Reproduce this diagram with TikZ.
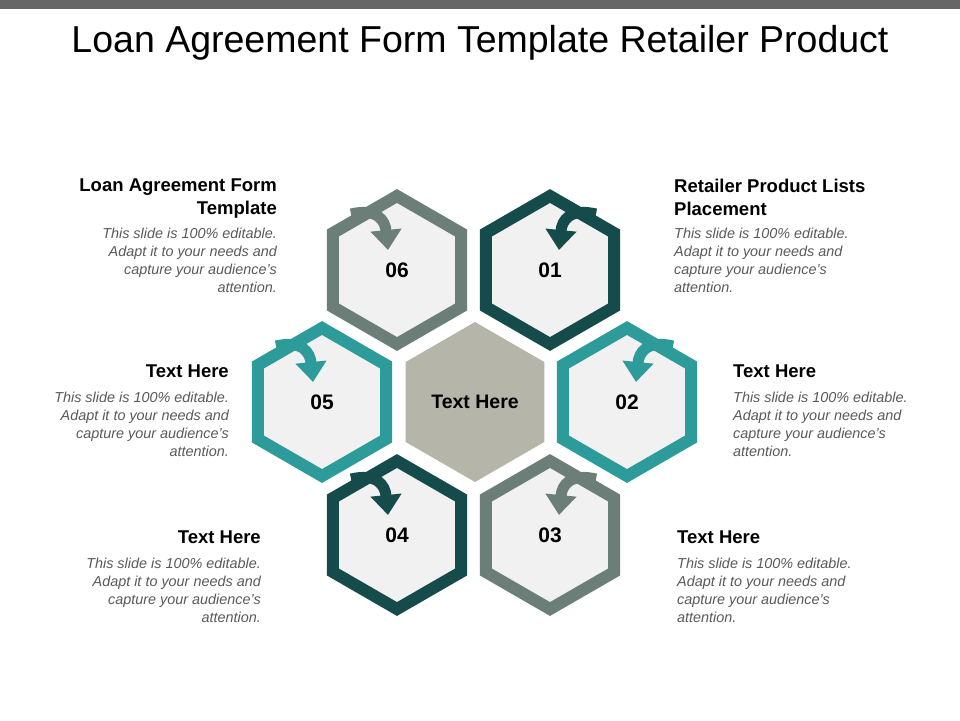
\documentclass[tikz,border=0pt]{standalone}
\usepackage{fontspec}
\setmainfont{Liberation Sans}
\usetikzlibrary{arrows.meta,shapes.geometric}
\definecolor{cdark}{HTML}{164B4B}
\definecolor{cgray}{HTML}{6B7F78}
\definecolor{cteal}{HTML}{2E9B9B}
\definecolor{ccent}{HTML}{B5B5AA}
\definecolor{cfill}{HTML}{F1F1F1}
\definecolor{ctext}{HTML}{595959}
\tikzset{
 hexa/.style={regular polygon,regular polygon sides=6,shape border rotate=90,minimum size=148pt,line width=12pt,fill=cfill,inner sep=0pt,font=\bfseries\fontsize{21}{24}\selectfont},
 curarrow/.style={line width=11pt,-{Triangle[width=30pt,length=20pt]}},
 head/.style={font=\bfseries\fontsize{18.5}{23}\selectfont,inner sep=0pt},
 body/.style={font=\itshape\fontsize{14.4}{17.8}\selectfont,text=ctext,inner sep=0pt},
}
\begin{document}
\begin{tikzpicture}[x=1pt,y=-1pt]
\useasboundingbox (0,0) rectangle (960,720);
\fill[gray!80!black] (0,0) rectangle (960,9);
\node[font=\fontsize{37.5}{42}\selectfont] (title) at (480,43) {Loan Agreement Form Template Retailer Product};
% hexagons
\node[hexa,draw=cgray] (h6) at (397,270) {06};
\node[hexa,draw=cdark] (h1) at (550,270) {01};
\node[hexa,draw=cteal] (h5) at (322,402) {05};
\node[hexa,draw=none,fill=ccent,minimum size=160pt,font=\bfseries\fontsize{19.5}{22}\selectfont] (hc) at (475,402) {Text Here};
\node[hexa,draw=cteal] (h2) at (627,402) {02};
\node[hexa,draw=cdark] (h4) at (397,535) {04};
\node[hexa,draw=cgray] (h3) at (550,535) {03};
% arrows
\foreach \n/\c in {h1/cdark,h2/cteal,h3/cgray}{
 \draw[curarrow,\c] ([shift={(46,-56)}]\n.center) .. controls ([shift={(20,-62)}]\n.center) and ([shift={(12,-50)}]\n.center) .. ([shift={(9,-20)}]\n.center);
}
\foreach \n/\c in {h6/cgray,h5/cteal,h4/cdark}{
 \draw[curarrow,\c] ([shift={(-46,-56)}]\n.center) .. controls ([shift={(-20,-62)}]\n.center) and ([shift={(-12,-50)}]\n.center) .. ([shift={(-9,-20)}]\n.center);
}
% texts left
\node[head,align=right,anchor=north east] (t6) at (277,179) {Loan Agreement Form\\Template};
\node[body,align=right,anchor=north east] (b6) at (277,228) {This slide is 100\% editable.\\Adapt it to your needs and\\capture your audience's\\attention.};
\node[head,anchor=north east] (t5) at (229,365) {Text Here};
\node[body,align=right,anchor=north east] (b5) at (229,392) {This slide is 100\% editable.\\Adapt it to your needs and\\capture your audience's\\attention.};
\node[head,anchor=north east] (t4) at (261,531) {Text Here};
\node[body,align=right,anchor=north east] (b4) at (261,558) {This slide is 100\% editable.\\Adapt it to your needs and\\capture your audience's\\attention.};
% texts right
\node[head,align=left,anchor=north west] (t1) at (674,179) {Retailer Product Lists\\Placement};
\node[body,align=left,anchor=north west] (b1) at (674,228) {This slide is 100\% editable.\\Adapt it to your needs and\\capture your audience's\\attention.};
\node[head,anchor=north west] (t2) at (733,365) {Text Here};
\node[body,align=left,anchor=north west] (b2) at (733,392) {This slide is 100\% editable.\\Adapt it to your needs and\\capture your audience's\\attention.};
\node[head,anchor=north west] (t3) at (677,531) {Text Here};
\node[body,align=left,anchor=north west] (b3) at (677,558) {This slide is 100\% editable.\\Adapt it to your needs and\\capture your audience's\\attention.};
\end{tikzpicture}
\end{document}
